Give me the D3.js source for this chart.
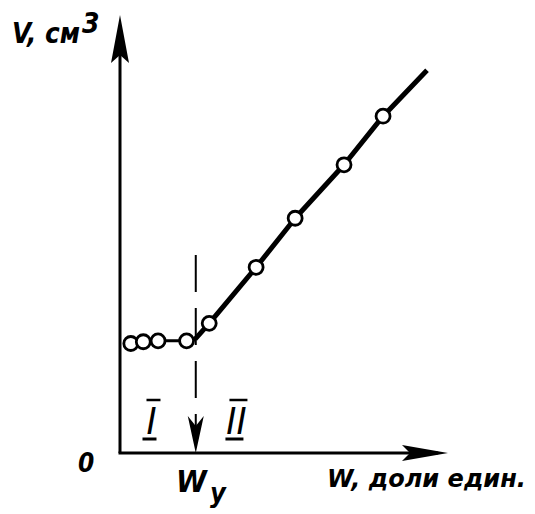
<!DOCTYPE html>
<html><head><meta charset="utf-8">
<script src="https://cdn.jsdelivr.net/npm/d3@7"></script>
<style>
html,body{margin:0;padding:0;background:#fff;}
text{font-family:"DejaVu Sans Condensed","DejaVu Sans",sans-serif;font-style:italic;font-weight:bold;fill:#000;}
</style></head>
<body>
<svg id="c" width="535" height="514"></svg>
<script>
// Data (fractions of axis length)
const pointW = [0.033, 0.071, 0.116, 0.203, 0.272, 0.415, 0.534, 0.683, 0.802];
const pointV = [0.250, 0.254, 0.256, 0.256, 0.296, 0.424, 0.536, 0.658, 0.769];
const flatLineW = [0.033, 0.071, 0.116, 0.203, 0.229];
const flatLineV = [0.250, 0.254, 0.256, 0.256, 0.260];
const riseLineW = [0.229, 0.272, 0.415, 0.534, 0.683, 0.802, 0.936];
const riseLineV = [0.260, 0.296, 0.424, 0.536, 0.658, 0.769, 0.874];
const wY = 0.231;
const yLabel = "V, см";
const yLabelSup = "3";
const xLabel = "W, доли един.";
const originLabel = "0";
const wyLabel = "W";
const wySub = "y";
const regionLabels = ["I", "II"];
const regionW = [0.096, 0.355];

const svg = d3.select("#c");
const x = d3.scaleLinear().domain([0, 1]).range([120, 448]);
const y = d3.scaleLinear().domain([0, 1]).range([453, 15]);

// axes
svg.append("line").attr("x1", x(0)).attr("y1", y(0)).attr("x2", x(0)).attr("y2", y(0.97))
  .attr("stroke", "#000").attr("stroke-width", 3);
svg.append("line").attr("x1", x(0) - 1.5).attr("y1", y(0)).attr("x2", x(0.97)).attr("y2", y(0))
  .attr("stroke", "#000").attr("stroke-width", 3);
// arrowheads
const ax0 = x(0), ayTop = y(1);
svg.append("path").attr("d", `M${ax0},${ayTop} L${ax0 + 9},${ayTop + 48} L${ax0},${ayTop + 40} L${ax0 - 9},${ayTop + 48} Z`).attr("fill", "#000");
const axR = x(1), ay0 = y(0);
svg.append("path").attr("d", `M${axR},${ay0} L${axR - 46},${ay0 - 8} L${axR - 38},${ay0} L${axR - 46},${ay0 + 8} Z`).attr("fill", "#000");

// dashed line with arrow
const dx = x(wY);
svg.append("line").attr("x1", dx).attr("y1", 255).attr("x2", dx).attr("y2", y(0) - 10)
  .attr("stroke", "#000").attr("stroke-width", 2).attr("stroke-dasharray", "37,16");
svg.append("path").attr("d", `M${dx},${y(0)} L${dx + 8},${y(0) - 37} L${dx},${y(0) - 27} L${dx - 8},${y(0) - 37} Z`).attr("fill", "#000");

// lines
const line = d3.line().x(d => x(d[0])).y(d => y(d[1]));
svg.append("path").datum(flatLineW.map((w, i) => [w, flatLineV[i]])).attr("d", line)
  .attr("fill", "none").attr("stroke", "#000").attr("stroke-width", 3);
svg.append("path").datum(riseLineW.map((w, i) => [w, riseLineV[i]])).attr("d", line)
  .attr("fill", "none").attr("stroke", "#000").attr("stroke-width", 5).attr("stroke-linejoin", "round");

// points
svg.selectAll("circle.p").data(pointW.map((w, i) => [w, pointV[i]])).enter().append("circle")
  .attr("cx", d => x(d[0])).attr("cy", d => y(d[1])).attr("r", 7)
  .attr("fill", "#fff").attr("stroke", "#000").attr("stroke-width", 2.8);

// region labels with bars
regionLabels.forEach((t, i) => {
  const cx = x(regionW[i]);
  const half = t.length === 1 ? 7 : 9;
  svg.append("text").attr("x", cx).attr("y", 434).attr("text-anchor", "middle")
    .attr("font-size", 38).style("font-weight", "normal").text(t);
  svg.append("line").attr("x1", cx - half + 2).attr("x2", cx + half + 2).attr("y1", 400).attr("y2", 400).attr("stroke", "#000").attr("stroke-width", 2.5);
  svg.append("line").attr("x1", cx - half - 2).attr("x2", cx + half - 2).attr("y1", 439).attr("y2", 439).attr("stroke", "#000").attr("stroke-width", 3);
});

// labels
const yl = svg.append("text").attr("x", 12).attr("y", 43).attr("font-size", 28);
yl.append("tspan").text(yLabel).attr("textLength", 68).attr("lengthAdjust", "spacingAndGlyphs");
svg.append("text").attr("x", 82).attr("y", 33).attr("font-size", 28).text(yLabelSup);
svg.append("text").attr("x", 78).attr("y", 472).attr("font-size", 26).text(originLabel);
svg.append("text").attr("x", 176).attr("y", 492).attr("font-size", 31).text(wyLabel);
svg.append("text").attr("x", 210).attr("y", 502).attr("font-size", 27).text(wySub);
svg.append("text").attr("x", 327).attr("y", 487).attr("font-size", 24)
  .attr("textLength", 199).attr("lengthAdjust", "spacingAndGlyphs").text(xLabel);
</script>
</body></html>
